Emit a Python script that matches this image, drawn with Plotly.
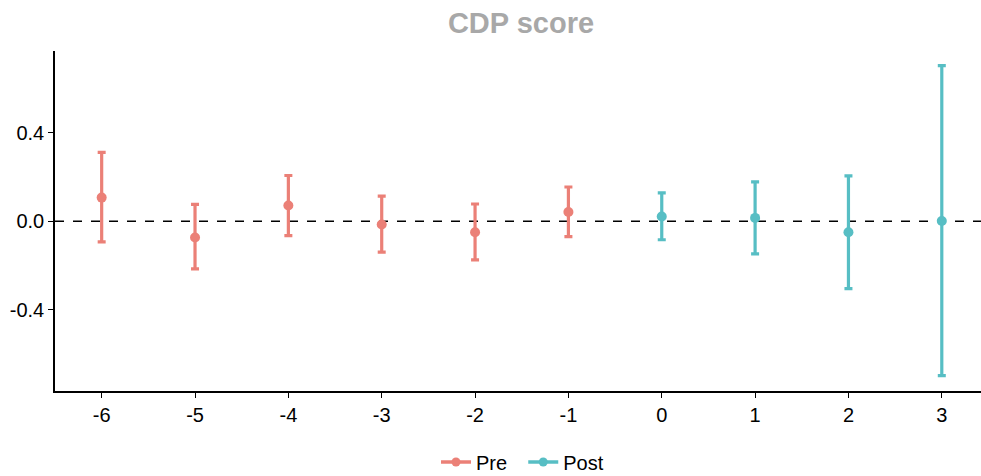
import plotly.graph_objects as go

pre_x = [-6, -5, -4, -3, -2, -1]
pre_est = [0.107, -0.074, 0.071, -0.015, -0.050, 0.042]
pre_hi = [0.312, 0.076, 0.207, 0.114, 0.078, 0.155]
pre_lo = [-0.094, -0.216, -0.065, -0.140, -0.175, -0.070]

post_x = [0, 1, 2, 3]
post_est = [0.021, 0.015, -0.050, 0.001]
post_hi = [0.128, 0.178, 0.205, 0.705]
post_lo = [-0.084, -0.148, -0.305, -0.699]

x_ticks = [-6, -5, -4, -3, -2, -1, 0, 1, 2, 3]
x_tick_text = ["-6", "-5", "-4", "-3", "-2", "-1", "0", "1", "2", "3"]
y_ticks = [-0.4, 0.0, 0.4]
y_tick_text = ["-0.4", "0.0", "0.4"]

PRE_C = "#EB8077"
POST_C = "#57BEC4"

fig = go.Figure()

def add_series(xs, est, hi, lo, color, name):
    fig.add_trace(go.Scatter(
        x=xs, y=est, mode="markers", name=name, showlegend=False,
        marker=dict(color=color, size=10),
        error_y=dict(type="data", symmetric=False,
                     array=[h - e for h, e in zip(hi, est)],
                     arrayminus=[e - l for e, l in zip(est, lo)],
                     color=color, thickness=3.2, width=4),
    ))
    fig.add_trace(go.Scatter(
        x=[None], y=[None], mode="lines+markers", name=name + "  ",
        line=dict(color=color, width=3.5), marker=dict(color=color, size=9),
    ))

add_series(pre_x, pre_est, pre_hi, pre_lo, PRE_C, "Pre")
add_series(post_x, post_est, post_hi, post_lo, POST_C, "Post")

fig.add_shape(type="line", xref="paper", yref="y", x0=0, x1=1, y0=0, y1=0,
              line=dict(color="black", width=1.6, dash="dash"), layer="below")

fig.update_layout(
    width=981, height=476,
    margin=dict(l=55, r=0, t=51, b=85),
    plot_bgcolor="white", paper_bgcolor="white",
    font=dict(family="Liberation Sans, Arial, sans-serif", size=20, color="black"),
    title=dict(text="<b>CDP score</b>", x=521 / 981, xref="container", xanchor="center",
               y=1 - 23 / 476, yref="container", yanchor="middle",
               font=dict(size=29, color="#A8A8A8")),
    showlegend=True,
    legend=dict(orientation="h", x=528 / 981, xanchor="center", xref="container",
                y=1 - 462 / 476, yref="container", yanchor="middle",
                font=dict(size=20), itemwidth=30, tracegroupgap=0),
    xaxis=dict(range=[-6.5, 3.42], tickmode="array", tickvals=x_ticks,
               ticktext=x_tick_text, tickfont=dict(size=20),
               showgrid=False, zeroline=False, showline=True, linecolor="black",
               linewidth=1.6, ticks="outside", ticklen=5, tickcolor="black",
               tickwidth=1.3),
    yaxis=dict(range=[-0.769, 0.771], tickmode="array", tickvals=y_ticks,
               ticktext=y_tick_text, tickfont=dict(size=20), showgrid=False,
               zeroline=False, showline=True, linecolor="black", linewidth=1.6,
               ticks="outside", ticklen=5, tickcolor="black", tickwidth=1.3),
)

fig.write_html("out.html")
